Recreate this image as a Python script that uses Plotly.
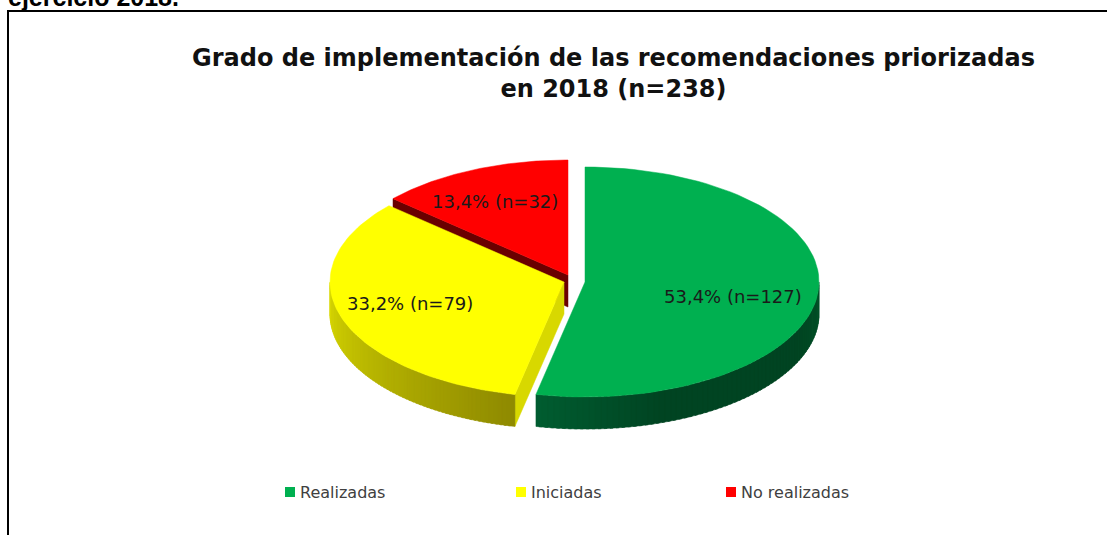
import math
import plotly.graph_objects as go

categories = ["Realizadas", "Iniciadas", "No realizadas"]
counts = [127, 79, 32]
percent_labels = ["53,4% (n=127)", "33,2% (n=79)", "13,4% (n=32)"]
colors = ["#00B050", "#FFFF00", "#FF0000"]

TOTAL = sum(counts)
RX, RY, DEPTH = 234, 115, 32
CENTERS = [(585, 282), (564, 282), (568, 275)]
LABEL_POS = [(733, 296), (410, 303), (495, 201)]

def pt(c, deg, dy=0):
    t = math.radians(deg)
    return c[0] + RX * math.sin(t), c[1] - RY * math.cos(t) + dy

def lerp(a, b, f):
    return "#%02x%02x%02x" % tuple(round(a[i] + (b[i] - a[i]) * f) for i in range(3))

# slice angles from the data
angles = []
start = 0.0
for v in counts:
    angles.append((start, start + v / TOTAL * 360))
    start += v / TOTAL * 360

fig = go.Figure()

def poly(xy, color):
    fig.add_trace(go.Scatter(x=[p[0] for p in xy] + [xy[0][0]], y=[p[1] for p in xy] + [xy[0][1]],
                             mode="lines", fill="toself", fillcolor=color,
                             line=dict(color=color, width=0.5), showlegend=False, hoverinfo="skip"))

def arc(c, a0, a1, dy=0, n=80):
    return [pt(c, a0 + (a1 - a0) * i / n, dy) for i in range(n + 1)]

# red: inner wall then top
c = CENTERS[2]; a0, a1 = angles[2]
p = pt(c, a0)
poly([p, c, (c[0], c[1] + DEPTH), (p[0], p[1] + DEPTH)], "#6a0000")
poly([c] + arc(c, a0, a1), colors[2])

# yellow: inner wall, outer wall, top
c = CENTERS[1]; a0, a1 = angles[1]
p = pt(c, a0)
poly([c, p, (p[0], p[1] + DEPTH), (c[0], c[1] + DEPTH)], "#d8d800")
N = 70
for i in range(N):
    s0 = a0 + (270 - a0) * i / N
    s1 = min(a0 + (270 - a0) * (i + 1.5) / N, 270)
    f = i / (N - 1)
    col = lerp((0x8f, 0x8a, 0x00), (0xd8, 0xd8, 0x00), f)
    poly(arc(c, s0, s1, 0, 3) + arc(c, s1, s0, DEPTH, 3), col)
poly([c] + arc(c, a0, a1), colors[1])

# green: outer wall, top
c = CENTERS[0]; a0, a1 = angles[0]
N = 70
for i in range(N):
    s0 = 90 + (a1 - 90) * i / N
    s1 = min(90 + (a1 - 90) * (i + 1.5) / N, a1)
    f = i / (N - 1)
    base = (0x00, 0x44, 0x22)
    col = lerp((0x00, 0x52, 0x28), base, f * 4) if f < 0.25 else lerp(base, (0x00, 0x5c, 0x30), max(0, (f - 0.7) / 0.3))
    poly(arc(c, s0, s1, 0, 3) + arc(c, s1, s0, DEPTH, 3), col)
poly([c] + arc(c, a0, a1), colors[0])

# slice labels
for lab, (x, y) in zip(percent_labels, LABEL_POS):
    fig.add_annotation(x=x, y=y, text=lab, showarrow=False,
                       font=dict(family="DejaVu Sans", size=18, color="#1a1a1a"))

# legend
for name, col, x in zip(categories, colors, [290, 521, 731]):
    fig.add_trace(go.Scatter(x=[x], y=[492], mode="markers", showlegend=False, hoverinfo="skip",
                             marker=dict(symbol="square", size=10, color=col)))
    fig.add_annotation(x=x + 8, y=492, text=name, showarrow=False, xanchor="left",
                       font=dict(family="DejaVu Sans", size=16, color="#404040"))

# title
fig.add_annotation(x=613, y=73, text="<b>Grado de implementación de las recomendaciones priorizadas<br>en 2018 (n=238)</b>",
                   showarrow=False, align="center",
                   font=dict(family="DejaVu Sans", size=24, color="#111111"))
fig.add_annotation(x=6, y=0, yshift=3, text="<b>ejercicio 2018.</b>", showarrow=False, xanchor="left",
                   font=dict(family="Liberation Sans", size=25, color="#000000"))

# frame of the page around the chart
fig.add_shape(type="line", x0=8, x1=8, y0=11, y1=535, line=dict(color="#000", width=2))
fig.add_shape(type="line", x0=7, x1=1107, y0=11, y1=11, line=dict(color="#000", width=2))

fig.update_layout(width=1107, height=535, margin=dict(l=0, r=0, t=0, b=0),
                  paper_bgcolor="white", plot_bgcolor="white", showlegend=False,
                  xaxis=dict(range=[0, 1107], visible=False, fixedrange=True),
                  yaxis=dict(range=[535, 0], visible=False, fixedrange=True))
fig.write_html("out.html", config=dict(displayModeBar=False),
               post_script="document.body.style.margin='0';document.documentElement.style.overflow='hidden';")
